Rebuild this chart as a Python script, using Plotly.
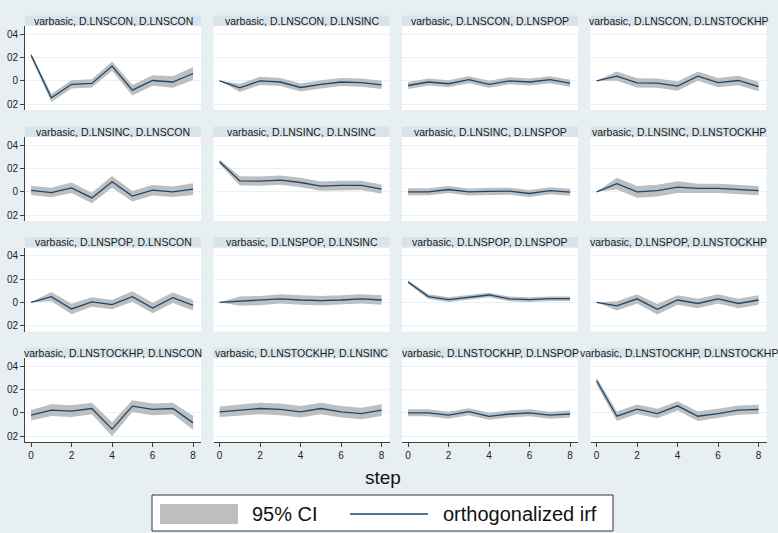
import plotly.graph_objects as go

# ---------------------------------------------------------------
# Orthogonalized impulse responses from the basic VAR (varbasic),
# steps 0..8, with 95% confidence bands.
# Rows = impulse variable, columns = response variable.
# ---------------------------------------------------------------
steps = [0, 1, 2, 3, 4, 5, 6, 7, 8]
variables = ["D.LNSCON", "D.LNSINC", "D.LNSPOP", "D.LNSTOCKHP"]
ytick_vals = [-0.02, 0.0, 0.02, 0.04]
ytick_text = ["02", "0", "02", "04"]
xtick_vals = [0, 2, 4, 6, 8]

# impulse D.LNSCON
irf_con_con = [0.022, -0.0146, -0.003, -0.0022, 0.0126, -0.008, 0.0003, -0.001, 0.0063]
irf_con_inc = [0.0, -0.006, 0.0, -0.001, -0.0057, -0.003, -0.001, -0.0015, -0.0034]
irf_con_pop = [-0.004, -0.001, -0.0025, 0.001, -0.003, 0.0, -0.001, 0.001, -0.002]
irf_con_stk = [0.0, 0.004, -0.0017, -0.002, -0.0046, 0.004, -0.0015, 0.0003, -0.005]
# impulse D.LNSINC
irf_inc_con = [0.0012, -0.0006, 0.0034, -0.0052, 0.0086, -0.0037, 0.0014, 0.0, 0.0023]
irf_inc_inc = [0.0258, 0.0094, 0.0092, 0.010, 0.008, 0.0049, 0.0055, 0.0055, 0.0023]
irf_inc_pop = [0.0, 0.0, 0.002, -0.0001, 0.0004, 0.0006, -0.0014, 0.001, -0.0003]
irf_inc_stk = [0.0, 0.007, 0.0, 0.001, 0.004, 0.003, 0.003, 0.002, 0.001]
# impulse D.LNSPOP
irf_pop_con = [0.0, 0.0049, -0.0057, 0.0003, -0.002, 0.0049, -0.0049, 0.004, -0.0026]
irf_pop_inc = [0.0, 0.001, 0.0015, 0.003, 0.002, 0.0015, 0.002, 0.003, 0.002]
irf_pop_pop = [0.0175, 0.0049, 0.0023, 0.0046, 0.0063, 0.0029, 0.0023, 0.0031, 0.0031]
irf_pop_stk = [0.0, -0.003, 0.003, -0.006, 0.002, -0.001, 0.003, -0.001, 0.002]
# impulse D.LNSTOCKHP
irf_stk_con = [-0.002, 0.0023, 0.0014, 0.0037, -0.014, 0.0057, 0.0029, 0.0037, -0.0086]
irf_stk_inc = [0.0009, 0.0023, 0.0037, 0.0029, 0.0009, 0.0037, 0.0009, -0.0006, 0.0023]
irf_stk_pop = [0.0, 0.0, -0.002, 0.001, -0.003, -0.001, 0.0, -0.002, -0.001]
irf_stk_stk = [0.0275, -0.0029, 0.0031, -0.0006, 0.006, -0.0029, -0.0006, 0.0023, 0.0029]

# half-width of the 95% confidence band at each step
ci_con_con = [0.002, 0.0035, 0.0035, 0.0035, 0.004, 0.0045, 0.0045, 0.005, 0.0055]
ci_con_inc = [0.0, 0.0035, 0.0035, 0.0035, 0.0035, 0.0035, 0.0035, 0.0035, 0.0035]
ci_con_pop = [0.003, 0.003, 0.003, 0.003, 0.003, 0.003, 0.003, 0.003, 0.003]
ci_con_stk = [0.0, 0.004, 0.004, 0.004, 0.004, 0.004, 0.004, 0.004, 0.004]
ci_inc_con = [0.004, 0.004, 0.0045, 0.0045, 0.005, 0.0045, 0.0045, 0.0045, 0.005]
ci_inc_inc = [0.002, 0.004, 0.004, 0.004, 0.004, 0.004, 0.004, 0.004, 0.004]
ci_inc_pop = [0.003, 0.003, 0.003, 0.003, 0.003, 0.003, 0.003, 0.003, 0.003]
ci_inc_stk = [0.0, 0.005, 0.005, 0.005, 0.005, 0.004, 0.004, 0.004, 0.004]
ci_pop_con = [0.0, 0.004, 0.0045, 0.004, 0.004, 0.0045, 0.0045, 0.0045, 0.0045]
ci_pop_inc = [0.0, 0.004, 0.004, 0.004, 0.004, 0.004, 0.004, 0.004, 0.004]
ci_pop_pop = [0.0015, 0.002, 0.002, 0.002, 0.002, 0.002, 0.002, 0.002, 0.002]
ci_pop_stk = [0.0, 0.004, 0.004, 0.0045, 0.004, 0.004, 0.004, 0.004, 0.004]
ci_stk_con = [0.0045, 0.005, 0.005, 0.005, 0.006, 0.005, 0.005, 0.005, 0.006]
ci_stk_inc = [0.0045, 0.005, 0.005, 0.005, 0.005, 0.005, 0.005, 0.005, 0.005]
ci_stk_pop = [0.003, 0.003, 0.003, 0.003, 0.003, 0.003, 0.003, 0.003, 0.003]
ci_stk_stk = [0.003, 0.004, 0.004, 0.004, 0.004, 0.004, 0.004, 0.004, 0.004]

irf_grid = [
    [irf_con_con, irf_con_inc, irf_con_pop, irf_con_stk],
    [irf_inc_con, irf_inc_inc, irf_inc_pop, irf_inc_stk],
    [irf_pop_con, irf_pop_inc, irf_pop_pop, irf_pop_stk],
    [irf_stk_con, irf_stk_inc, irf_stk_pop, irf_stk_stk],
]
ci_grid = [
    [ci_con_con, ci_con_inc, ci_con_pop, ci_con_stk],
    [ci_inc_con, ci_inc_inc, ci_inc_pop, ci_inc_stk],
    [ci_pop_con, ci_pop_inc, ci_pop_pop, ci_pop_stk],
    [ci_stk_con, ci_stk_inc, ci_stk_pop, ci_stk_stk],
]

# ---------------- styling / geometry ----------------
W, H = 778, 533
BG = "#E8EFF2"
BAR = "#D8E4EA"
GRID = "#EAF1F4"
BAND = "#BEBEBE"
LINE = "#1A476F"
AXIS = "#404040"
FONT = "Liberation Sans, Arial, sans-serif"

col_left = [25, 213.5, 402, 590.5]
col_width = 176
row_top = [26, 137, 247.5, 358]
row_height = 84
bar_height = 10.5
x_range = [-0.3, 8.39]
y_range = [-0.025, 0.047]


def px_x(x):
    return x / W


def px_y(y):
    return 1 - y / H


fig = go.Figure()
shapes = []
annotations = []

for r in range(4):
    for c in range(4):
        k = r * 4 + c + 1
        xa = "x" if k == 1 else f"x{k}"
        ya = "y" if k == 1 else f"y{k}"
        irf = irf_grid[r][c]
        half = ci_grid[r][c]
        upper = [v + h for v, h in zip(irf, half)]
        lower = [v - h for v, h in zip(irf, half)]

        fig.add_trace(go.Scatter(
            x=steps + steps[::-1], y=upper + lower[::-1],
            fill="toself", fillcolor=BAND, mode="lines",
            line=dict(width=0, color=BAND), hoverinfo="skip",
            showlegend=False, xaxis=xa, yaxis=ya))
        fig.add_trace(go.Scatter(
            x=steps, y=irf, mode="lines",
            line=dict(color=LINE, width=1.3),
            showlegend=False, xaxis=xa, yaxis=ya))

        x0, x1 = col_left[c], col_left[c] + col_width
        y0, y1 = row_top[r], row_top[r] + row_height
        bottom = r == 3
        first = c == 0

        fig.layout[f"xaxis{'' if k == 1 else k}"] = dict(
            domain=[px_x(x0), px_x(x1)], anchor=ya, range=x_range,
            showgrid=False, zeroline=False,
            showline=bottom, linecolor=AXIS, linewidth=1,
            ticks="outside" if bottom else "", ticklen=4, tickcolor=AXIS,
            tickvals=xtick_vals, showticklabels=bottom,
            tickfont=dict(family=FONT, size=10, color="#222222"),
        )
        fig.layout[f"yaxis{'' if k == 1 else k}"] = dict(
            domain=[px_y(y1), px_y(y0)], anchor=xa, range=y_range,
            showgrid=True, gridcolor=GRID, gridwidth=1, zeroline=False,
            showline=first, linecolor=AXIS, linewidth=1,
            ticks="outside" if first else "", ticklen=4, tickcolor=AXIS,
            tickvals=ytick_vals, ticktext=ytick_text, showticklabels=first,
            tickfont=dict(family=FONT, size=10, color="#222222"),
        )

        # title strip above each panel
        shapes.append(dict(type="rect", xref="paper", yref="paper",
                           x0=px_x(x0), x1=px_x(x1),
                           y0=px_y(y0), y1=px_y(y0 - bar_height),
                           fillcolor=BAR, line=dict(width=0), layer="below"))
        annotations.append(dict(
            xref="paper", yref="paper", x=px_x((x0 + x1) / 2),
            y=px_y(y0 - bar_height / 2), xanchor="center", yanchor="middle",
            text=f"varbasic, {variables[r]}, {variables[c]}",
            showarrow=False, font=dict(family=FONT, size=10.5, color="#1a1a1a")))

# x-axis title
annotations.append(dict(xref="paper", yref="paper", x=px_x(383), y=px_y(477),
                        xanchor="center", yanchor="middle", text="step",
                        showarrow=False,
                        font=dict(family=FONT, size=19, color="#111111")))

# legend box
shapes.append(dict(type="rect", xref="paper", yref="paper",
                   x0=px_x(152), x1=px_x(613), y0=px_y(531), y1=px_y(495),
                   fillcolor="white", line=dict(color="#333333", width=1)))
shapes.append(dict(type="rect", xref="paper", yref="paper",
                   x0=px_x(160), x1=px_x(238), y0=px_y(524), y1=px_y(504),
                   fillcolor=BAND, line=dict(width=0)))
shapes.append(dict(type="line", xref="paper", yref="paper",
                   x0=px_x(350), x1=px_x(428), y0=px_y(514), y1=px_y(514),
                   line=dict(color=LINE, width=1.3)))
annotations.append(dict(xref="paper", yref="paper", x=px_x(250), y=px_y(514),
                        xanchor="left", yanchor="middle", text="95% CI",
                        showarrow=False,
                        font=dict(family=FONT, size=20, color="#111111")))
annotations.append(dict(xref="paper", yref="paper", x=px_x(441), y=px_y(514),
                        xanchor="left", yanchor="middle",
                        text="orthogonalized irf", showarrow=False,
                        font=dict(family=FONT, size=20, color="#111111")))

fig.update_layout(
    width=W, height=H,
    margin=dict(l=0, r=0, t=0, b=0),
    paper_bgcolor=BG, plot_bgcolor="white",
    shapes=shapes, annotations=annotations,
    showlegend=False,
)

fig.write_html("out.html")
